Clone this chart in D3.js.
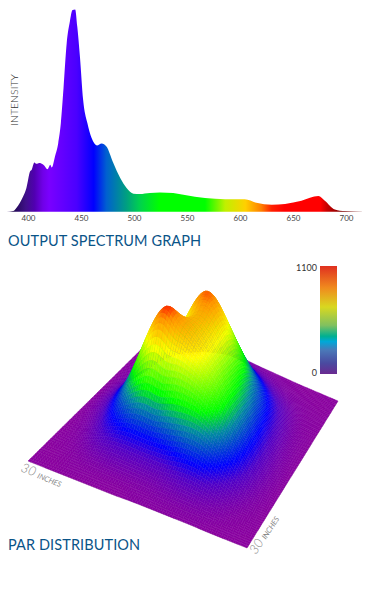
<!DOCTYPE html>
<html>
<head>
<meta charset="utf-8">
<script src="https://cdn.jsdelivr.net/npm/d3@7"></script>
<style>
  body { margin: 0; background: #fff; }
  svg { display: block; }
  text { font-family: Lato, "Open Sans", sans-serif; }
</style>
</head>
<body>
<div id="chart"></div>
<script>
// spectrum curve
var wavelengths = [380,386,389,392.5,395.5,398.5,402,403.5,406,408,410.5,414.5,418.5,421,422.5,425.5,428.5,431,433.5,436.5,439.5,442,444.5,446.5,449,452,456,460,465,469.5,474,480.5,487,493,499.5,505.5,515,524.5,537,548,567,586,604.5,615.5,630,642.5,658,674,680,689.5,699,715];
var intensity = [0,0.3,1.8,4.6,7.6,11.7,19.9,20.7,24.3,23.6,24,23.2,21,23.2,21.8,27.3,33.8,43.7,60.9,83.1,93.8,99.5,99.8,91.3,76.5,55.2,43.7,36.3,32.7,33.7,32.2,24,16.6,11.7,8.9,8.7,9.2,9.5,9.2,8.2,6.7,6.1,6.1,4.4,3.4,3.8,5.4,7.7,5.4,1.1,0.3,0.15];
var tickLabels = [400,450,500,550,600,650,700];

// fill colour along the wavelength axis
var colorWavelengths = [380,386,398,406,414,420,446,462,474,493,505,524,567,586,605,620,630,642,676,682,696,715];
var colorValues = ["#3a1a6a","#200850","#40108a","#5000b0","#7000e8","#7a00ff","#4a00ff","#0000ff","#0060d0","#00a080","#00d050","#00ff00","#00ff00","#c0f000","#ffd000","#ff8000","#ff2000","#ff0000","#ff0000","#c80000","#800000","#b08080"];

// PAR heights, rows run from the left corner to the bottom corner,
// columns from the left corner to the back corner
var parGrid = [
  [0,0,0,0,0,0,0,0,0,0,0,0,0,0,0,0,0,0,0,0,0],
  [0,0,0,5,5,10,15,25,35,35,35,25,20,20,15,10,5,5,0,0,0],
  [0,0,5,10,20,35,55,75,90,100,90,75,60,50,40,30,20,10,5,0,0],
  [0,5,10,30,60,95,130,170,205,225,205,165,135,120,100,75,50,25,10,5,0],
  [0,5,20,55,110,170,235,310,395,430,395,320,260,240,210,165,105,60,25,10,5],
  [0,5,25,70,135,215,330,485,650,740,670,530,440,420,380,300,200,110,50,20,5],
  [0,5,30,80,150,255,405,625,880,1010,910,680,600,600,590,500,350,200,90,30,10],
  [0,5,30,80,150,265,440,690,990,1160,1060,820,760,850,880,750,530,310,140,50,15],
  [0,5,30,75,145,250,405,620,850,990,970,900,880,1020,1060,915,665,400,190,70,20],
  [5,10,30,80,155,280,460,680,860,940,950,950,990,1070,1040,870,630,380,180,70,20],
  [5,10,30,75,160,300,490,680,810,860,870,890,930,950,880,720,510,310,150,55,15],
  [5,15,40,90,190,330,500,650,750,780,780,790,800,790,710,560,390,230,110,40,10],
  [5,15,45,105,210,350,490,600,660,670,660,650,640,610,530,410,280,160,80,30,10],
  [5,15,50,110,210,330,440,520,560,560,540,510,480,440,370,285,190,110,50,20,5],
  [5,15,45,100,185,280,360,410,430,425,410,385,350,310,255,195,125,70,30,10,5],
  [5,15,35,80,140,210,265,295,310,305,295,275,250,220,175,130,80,40,15,5,0],
  [0,10,25,55,95,140,175,195,205,200,190,175,155,135,105,75,45,20,10,0,0],
  [0,5,15,30,55,80,100,110,115,110,105,95,85,70,50,35,20,10,5,0,0],
  [0,5,5,15,25,35,45,50,50,45,40,35,30,25,15,10,5,5,0,0,0],
  [0,0,5,5,10,15,15,20,20,15,15,15,10,10,5,5,5,0,0,0,0],
  [0,0,0,0,0,0,0,0,0,0,0,0,0,0,0,0,0,0,0,0,0]
];
var parLevels = [0,110,190,360,480,780,1000,1100];
var parColors = ["#8a00a0","#5000c8","#0000ff","#008ca0","#00ff00","#ffff00","#ff9000","#ff0000"];

// legend bar colours, top to bottom
var legendOffsets = [0,0.2,0.38,0.55,0.65,0.7,0.78,0.9,1];
var legendColors = ["#e03020","#f08a1e","#d8d820","#80c060","#00b090","#00a8d8","#4a78b8","#4a4aa0","#6a2a90"];

var svg = d3.select("#chart").append("svg").attr("width", 370).attr("height", 601);
var defs = svg.append("defs");

//// spectrum
var x = d3.scaleLinear().domain([400, 700]).range([28, 346]);
var y = d3.scaleLinear().domain([0, 100]).range([211.7, 9]);

var grad = defs.append("linearGradient")
  .attr("id", "spectrum")
  .attr("gradientUnits", "userSpaceOnUse")
  .attr("x1", x(380)).attr("x2", x(715)).attr("y1", 0).attr("y2", 0);
colorWavelengths.forEach(function(w, i){
  grad.append("stop")
    .attr("offset", (w - 380) / (715 - 380))
    .attr("stop-color", colorValues[i]);
});

var area = d3.area()
  .x(function(d, i){ return x(wavelengths[i]); })
  .y0(y(0))
  .y1(function(d){ return y(d); })
  .curve(d3.curveMonotoneX);

svg.append("path")
  .datum(intensity)
  .attr("d", area)
  .attr("fill", "url(#spectrum)");

var axis = d3.axisBottom(x).tickValues(tickLabels).tickSize(0).tickPadding(3);
var axisG = svg.append("g").attr("transform", "translate(0,212)").call(axis);
axisG.select(".domain").remove();
axisG.selectAll("text").attr("fill", "#444").attr("font-size", 8);

svg.append("text")
  .attr("transform", "translate(17.5,100) rotate(-90)")
  .attr("text-anchor", "middle")
  .attr("font-size", 10.5)
  .attr("font-weight", 300)
  .attr("fill", "#333")
  .text("INTENSITY");

svg.append("text")
  .attr("x", 8).attr("y", 246)
  .attr("font-size", 14.5)
  .attr("fill", "#0a5488")
  .attr("letter-spacing", 0.1)
  .text("OUTPUT SPECTRUM GRAPH");

//// surface
// projective map of the unit square onto the floor of the plot
var G = 0.03305, H = 0.2413;
function project(u, v, h){
  var w = 1 + G * u + H * v;
  return [
    (227.2 * u + 175.6 * v + 28) / w,
    (105.1 * u - 55.1 * v + 461 - h * 0.12) / w
  ];
}

var parColor = d3.scaleLinear().domain(parLevels).range(parColors).clamp(true);

// resample the read grid onto the drawn mesh
var cells = 44, sub = 2, n = cells * sub;
var rowSplines = parGrid.map(function(r){ return d3.interpolateBasis(r); });
var fine = [];
d3.range(n + 1).forEach(function(j){
  var column = d3.interpolateBasis(rowSplines.map(function(f){ return f(j / n); }));
  d3.range(n + 1).forEach(function(i){
    if (!fine[i]) fine[i] = [];
    fine[i][j] = column(i / n);
  });
});
function pt(i, j){ return project(i / n, j / n, fine[i][j]); }
function poly(pts){ return "M" + pts.map(function(p){ return p[0].toFixed(2) + "," + p[1].toFixed(2); }).join("L"); }

var surface = svg.append("g");
// back corner first, front corner last
for (var i = 0; i < n; i += 1){
  for (var j = n - 1; j >= 0; j -= 1){
    var avg = (fine[i][j] + fine[i+1][j] + fine[i][j+1] + fine[i+1][j+1]) / 4;
    var col = parColor(avg);
    surface.append("path")
      .attr("d", poly([pt(i,j), pt(i+1,j), pt(i+1,j+1), pt(i,j+1)]) + "Z")
      .attr("fill", col)
      .attr("stroke", col)
      .attr("stroke-width", 0.4);
    var edges = [];
    if ((i + 1) % sub === 0) edges.push(poly([pt(i+1,j), pt(i+1,j+1)]));
    if (j % sub === 0) edges.push(poly([pt(i,j), pt(i+1,j)]));
    if (edges.length){
      surface.append("path")
        .attr("d", edges.join(""))
        .attr("fill", "none")
        .attr("stroke", "#000")
        .attr("stroke-opacity", 0.13)
        .attr("stroke-width", 0.5);
    }
  }
}

//// legend
var legendGrad = defs.append("linearGradient")
  .attr("id", "legend")
  .attr("x1", 0).attr("x2", 0).attr("y1", 0).attr("y2", 1);
legendOffsets.forEach(function(o, i){
  legendGrad.append("stop").attr("offset", o).attr("stop-color", legendColors[i]);
});
var legendY = d3.scaleLinear().domain([0, 1100]).range([374, 266]);
svg.append("rect")
  .attr("x", 320).attr("y", legendY(1100))
  .attr("width", 17).attr("height", legendY(0) - legendY(1100))
  .attr("fill", "url(#legend)");
[0, 1100].forEach(function(v){
  svg.append("text")
    .attr("x", 317).attr("y", legendY(v))
    .attr("dy", v ? "0.55em" : "0.2em")
    .attr("text-anchor", "end")
    .attr("font-size", 9)
    .attr("fill", "#333")
    .text(v);
});

//// edge labels
function edgeLabel(tx, ty, angle){
  var t = svg.append("text")
    .attr("transform", "translate(" + tx + "," + ty + ") rotate(" + angle + ")")
    .attr("fill", "#888")
    .attr("font-style", "italic");
  t.append("tspan").attr("font-size", 13).attr("font-weight", 300).text("30");
  t.append("tspan").attr("font-size", 7.5).attr("dx", 3).text("INCHES");
}
edgeLabel(20, 471, 22);
edgeLabel(256, 555, -57);

svg.append("text")
  .attr("x", 8).attr("y", 550)
  .attr("font-size", 14.5)
  .attr("fill", "#0a5488")
  .attr("letter-spacing", 0.1)
  .text("PAR DISTRIBUTION");
</script>
</body>
</html>
